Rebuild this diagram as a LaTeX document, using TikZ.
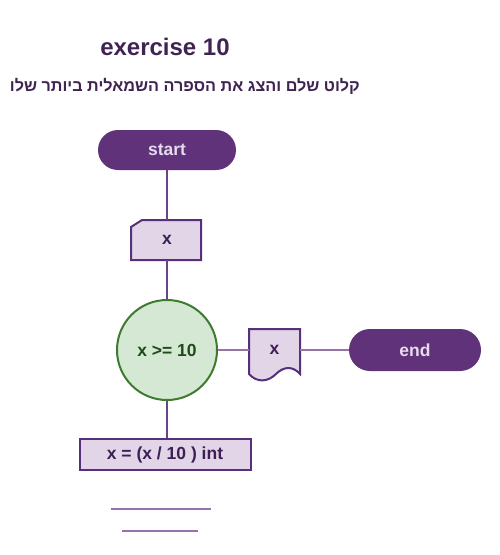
\documentclass[tikz,border=0pt]{standalone}
\usepackage{fontspec}
\setmainfont{Liberation Sans}
\newfontfamily\hebfont[Script=Hebrew]{Liberation Sans Bold}
\TeXXeTstate=1
\definecolor{termfill}{HTML}{5F3279}
\definecolor{termtext}{HTML}{E6DAEE}
\definecolor{boxfill}{HTML}{E1D5E7}
\definecolor{boxline}{HTML}{56307A}
\definecolor{boxtext}{HTML}{3D1F55}
\definecolor{circfill}{HTML}{D5E8D4}
\definecolor{circline}{HTML}{3E7A30}
\definecolor{circtext}{HTML}{1F4A1A}
\definecolor{titlecol}{HTML}{3F2352}
\definecolor{linedark}{HTML}{6A4388}
\definecolor{linelight}{HTML}{9673A6}
\tikzset{
  term/.style={fill=termfill, rounded corners=20pt, minimum width=138pt, minimum height=40pt, inner sep=0pt, text=termtext, font=\fontsize{17.5}{20}\selectfont\bfseries},
  shapeline/.style={draw=boxline, fill=boxfill, line width=2pt},
  lbl/.style={inner sep=0pt, text=boxtext, font=\fontsize{17.5}{20}\selectfont\bfseries},
  procbox/.style={draw=boxline, fill=boxfill, line width=2pt, minimum width=171pt, minimum height=31pt, inner sep=0pt, text=boxtext, font=\fontsize{17.5}{20}\selectfont\bfseries},
  decision/.style={circle, draw=circline, fill=circfill, line width=2pt, minimum size=100pt, inner sep=0pt, text=circtext, font=\fontsize{17.5}{20}\selectfont\bfseries},
  vconn/.style={draw=linedark, line width=2pt},
  hconn/.style={draw=linelight, line width=2.4pt},
  bar/.style={draw=linelight, line width=2.8pt},
}
\begin{document}
\begin{tikzpicture}[x=1pt,y=-1pt]
\useasboundingbox (0,0) rectangle (500,555);
% titles
\node[text=titlecol, font=\fontsize{24}{28}\selectfont\bfseries] (title) at (165,47) {exercise 10};
\node[text=titlecol, font=\hebfont\fontsize{16.2}{20}\selectfont, anchor=east, inner sep=0pt] (subtitle) at (360,86) {\beginR קלוט שלם והצג את הספרה השמאלית ביותר שלו\endR};
% start
\node[term] (start) at (167,150) {start};
% input (manual input card)
\draw[shapeline] (131,227) -- (142,220) -- (201,220) -- (201,260) -- (131,260) -- cycle;
\node[lbl, minimum width=70pt, minimum height=40pt] (inp) at (167,240) {x};
% decision
\node[decision] (dec) at (167,350) {x >= 10};
% output document
\draw[shapeline] (249,329) -- (300,329) -- (300,374)
  .. controls (293,366) and (284,366) .. (276,374)
  .. controls (268,382) and (257,383) .. (249,374) -- cycle;
\node[lbl, minimum width=51pt, minimum height=42pt] (out) at (274.5,350) {x};
% end
\node[term, minimum width=132pt, minimum height=42pt, rounded corners=21pt] (end) at (415,350) {end};
% process
\node[procbox] (proc) at (165,454.5) {x = (x / 10 ) int};
% connectors
\draw[vconn] (start.south) -- (start.south |- inp.north);
\draw[vconn] (inp.south) -- (dec.north);
\draw[vconn] (dec.south) -- (dec.south |- proc.north);
\draw[hconn] (dec.east) -- (out.west);
\draw[hconn] (out.east) -- (end.west);
% bottom bars
\coordinate (b1l) at (111,509); \coordinate (b1r) at (211,509);
\coordinate (b2l) at (122,531); \coordinate (b2r) at (198,531);
\draw[bar] (b1l) -- (b1r);
\draw[bar] (b2l) -- (b2r);
\end{tikzpicture}
\end{document}
